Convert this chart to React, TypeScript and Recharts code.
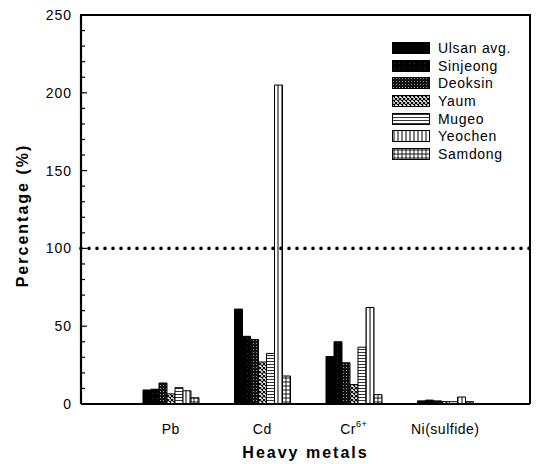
import { BarChart, Bar, XAxis, YAxis, ReferenceLine } from "recharts";

const metals = ["Pb", "Cd", "Cr6+", "Ni(sulfide)"];
const ulsanAvg = [9, 61, 30.5, 2];
const sinjeong = [9.5, 43.5, 40, 2.5];
const deoksin = [13.5, 41.5, 26.5, 2];
const yaum = [6.5, 27, 12.5, 1.5];
const mugeo = [10.5, 32.5, 36.5, 1.5];
const yeochen = [8.5, 205, 62, 4.5];
const samdong = [4, 18, 6, 1.5];
const yTicks = [0, 10, 20, 30, 40, 50, 60, 70, 80, 90, 100, 110, 120, 130, 140, 150, 160, 170, 180, 190, 200, 210, 220, 230, 240, 250];

const SERIES = [
  { key: "ulsan", name: "Ulsan avg.", values: ulsanAvg, fill: "#000" },
  { key: "sinjeong", name: "Sinjeong", values: sinjeong, fill: "url(#pSin)" },
  { key: "deoksin", name: "Deoksin", values: deoksin, fill: "url(#pDeo)" },
  { key: "yaum", name: "Yaum", values: yaum, fill: "url(#pYaum)" },
  { key: "mugeo", name: "Mugeo", values: mugeo, fill: "url(#pMug)" },
  { key: "yeochen", name: "Yeochen", values: yeochen, fill: "url(#pYeo)" },
  { key: "samdong", name: "Samdong", values: samdong, fill: "url(#pSam)" },
];

const data = metals.map((m, i) => {
  const row: Record<string, string | number> = { metal: m };
  SERIES.forEach((s) => { row[s.key] = s.values[i]; });
  return row;
});

const FONT = "'Liberation Sans', Arial, sans-serif";

function Patterns() {
  return (
    <defs>
      <pattern id="pSin" width="5" height="5" patternUnits="userSpaceOnUse">
        <rect width="5" height="5" fill="#000" />
        <rect x="2" y="3" width="1" height="1" fill="#333" />
      </pattern>
      <pattern id="pDeo" width="3" height="3" patternUnits="userSpaceOnUse">
        <rect width="3" height="3" fill="#111" />
        <rect x="1" y="1" width="1" height="1" fill="#999" />
      </pattern>
      <pattern id="pYaum" width="4" height="4" patternUnits="userSpaceOnUse">
        <rect width="4" height="4" fill="#fff" />
        <path d="M0,0 L4,4 M4,0 L0,4" stroke="#000" strokeWidth="1.1" />
      </pattern>
      <pattern id="pMug" width="4" height="3" patternUnits="userSpaceOnUse">
        <rect width="4" height="3" fill="#fff" />
        <path d="M0,1.5 L4,1.5" stroke="#000" strokeWidth="0.8" />
      </pattern>
      <pattern id="pYeo" width="4" height="4" patternUnits="userSpaceOnUse">
        <rect width="4" height="4" fill="#fff" />
        <path d="M2,0 L2,4" stroke="#000" strokeWidth="1" />
      </pattern>
      <pattern id="pSam" width="4" height="4" patternUnits="userSpaceOnUse">
        <rect width="4" height="4" fill="#fff" />
        <path d="M2,0 L2,4 M0,2 L4,2" stroke="#000" strokeWidth="0.9" />
      </pattern>
    </defs>
  );
}

// inward ticks, labels only every 50
function YTick({ x, y, payload }: { x: number; y: number; payload: { value: number } }) {
  const major = payload.value % 50 === 0;
  return (
    <g>
      <line x1={x} x2={x + (major ? 6 : 4)} y1={y} y2={y} stroke="#000" strokeWidth={1.2} />
      {major && (
        <text x={x - 9} y={y} dy={5} textAnchor="end" fontSize={14} letterSpacing={1} fill="#000" fontFamily={FONT}>
          {payload.value}
        </text>
      )}
    </g>
  );
}

function XTick({ x, y, payload }: { x: number; y: number; payload: { value: string } }) {
  const v = payload.value;
  if (v === "Cr6+") {
    return (
      <text x={x} y={y + 22} textAnchor="middle" fontSize={14} letterSpacing={0.5} fill="#000" fontFamily={FONT}>
        Cr<tspan fontSize={9} dy={-7}>6+</tspan>
      </text>
    );
  }
  return (
    <text x={x} y={y + 22} textAnchor="middle" fontSize={14} letterSpacing={0.5} fill="#000" fontFamily={FONT}>
      {v}
    </text>
  );
}

function YTitle({ viewBox }: { viewBox?: { x: number; y: number; width: number; height: number } }) {
  if (!viewBox) return null;
  const cx = 22;
  const cy = viewBox.y + viewBox.height / 2 + 6;
  return (
    <text x={cx} y={cy} transform={`rotate(-90 ${cx} ${cy})`} textAnchor="middle" dominantBaseline="central"
      fontSize={16} fontWeight="bold" letterSpacing={2} fill="#000" fontFamily={FONT}>
      Percentage (%)
    </text>
  );
}

function LegendBox() {
  return (
    <div style={{ position: "absolute", left: 392, top: 39, width: 130, fontFamily: FONT }}>
      {SERIES.map((s) => (
        <div key={s.key} style={{ display: "flex", alignItems: "center", height: 17.7 }}>
          <svg width={38} height={12} style={{ marginRight: 8 }}>
            <rect x={0.5} y={0.5} width={37} height={11} fill={s.fill} stroke="#000" strokeWidth={1} />
          </svg>
          <span style={{ fontSize: 14, letterSpacing: 0.7, color: "#000" }}>{s.name}</span>
        </div>
      ))}
    </div>
  );
}

export default function App() {
  return (
    <div style={{ position: "absolute", left: 0, top: 0, width: 536, height: 464, background: "#fff" }}>
      <BarChart width={536} height={464} data={data} margin={{ top: 15, right: 6, bottom: 0, left: 0 }}
        barCategoryGap={18} barGap={0}>
        <Patterns />
        <XAxis dataKey="metal" height={60} padding={{ left: 44, right: 39 }} tickLine={false}
          axisLine={{ stroke: "#000", strokeWidth: 2 }} tick={XTick} interval={0}
          label={{ value: "Heavy metals", position: "insideBottom", offset: 6, fontSize: 16, fontWeight: "bold", letterSpacing: 2, fill: "#000", fontFamily: FONT }} />
        <YAxis width={81} domain={[0, 250]} ticks={yTicks} interval={0} tickSize={0} tickMargin={0} tickLine={false}
          axisLine={{ stroke: "#000", strokeWidth: 2.2 }} tick={YTick} label={<YTitle />} />
        <ReferenceLine y={100} stroke="#000" strokeWidth={3.6} strokeDasharray="0 8" strokeLinecap="round" />
        {SERIES.map((s) => (
          <Bar key={s.key} dataKey={s.key} name={s.name} fill={s.fill} stroke="#000" strokeWidth={1}
            isAnimationActive={false} />
        ))}
      </BarChart>
      {/* top and right edges of the plot frame */}
      <div style={{ position: "absolute", left: 80, top: 14, width: 451, height: 390, boxSizing: "border-box",
        borderTop: "2px solid #000", borderRight: "2px solid #000", pointerEvents: "none" }} />
      <LegendBox />
    </div>
  );
}
